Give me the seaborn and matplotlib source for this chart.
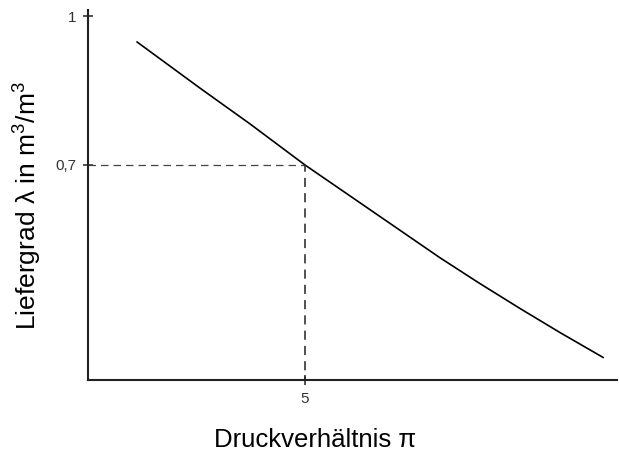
import numpy as np
import pandas as pd
import seaborn as sns
import matplotlib.pyplot as plt

# values
druckverhaeltnis = [1.13, 2.58, 3.73, 5.0, 6.73, 8.11, 9.03, 9.95, 10.88, 11.87]
liefergrad = [0.948, 0.855, 0.783, 0.700, 0.596, 0.513, 0.461, 0.411, 0.362, 0.312]

marker_x = 5
marker_y = 0.7
y_ticks = [0.7, 1.0]
y_ticklabels = ["0,7", "1"]
x_ticks = [5]
x_ticklabels = ["5"]

df = pd.DataFrame({"pi": druckverhaeltnis, "lam": liefergrad})

sns.set_style("ticks")
plt.rcParams['font.family'] = ['Liberation Sans', 'DejaVu Sans']
plt.rcParams['mathtext.fontset'] = 'custom'
plt.rcParams['mathtext.rm'] = 'Liberation Sans'

fig = plt.figure(figsize=(6.19, 4.61), dpi=100)
ax = fig.add_axes([0.142, 0.176, 0.855, 0.802])

sns.lineplot(data=df, x="pi", y="lam", ax=ax, color="black", linewidth=1.2)

# helper lines to the marked point
ax.plot([0, marker_x], [marker_y, marker_y], color="#444444", linestyle=(0, (6, 4)), linewidth=0.9)
ax.plot([marker_x, marker_x], [0, marker_y], color="#222222", linestyle=(0, (6, 4)), linewidth=1.1)

ax.set_xlim(0, 12.19)
ax.set_ylim(0.267, 1.012)

ax.set_xticks(x_ticks)
ax.set_xticklabels(x_ticklabels, fontsize=11)
ax.set_yticks(y_ticks)
ax.set_yticklabels(y_ticklabels, fontsize=11)
ax.tick_params(direction="inout", length=7, width=1.1, color="#222222", pad=5,
               labelcolor="#333333")

for side in ["top", "right"]:
    ax.spines[side].set_visible(False)
for side in ["left", "bottom"]:
    ax.spines[side].set_linewidth(1.5)
    ax.spines[side].set_color("#222222")

ax.set_xlabel("Druckverhältnis π", fontsize=18.5, color="black")
ax.set_ylabel("Liefergrad λ in m$^3$/m$^3$", fontsize=19, color="black")
ax.xaxis.set_label_coords(0.429, -0.13)
ax.yaxis.set_label_coords(-0.085, 0.47)

fig.savefig("out.png", dpi=100)
